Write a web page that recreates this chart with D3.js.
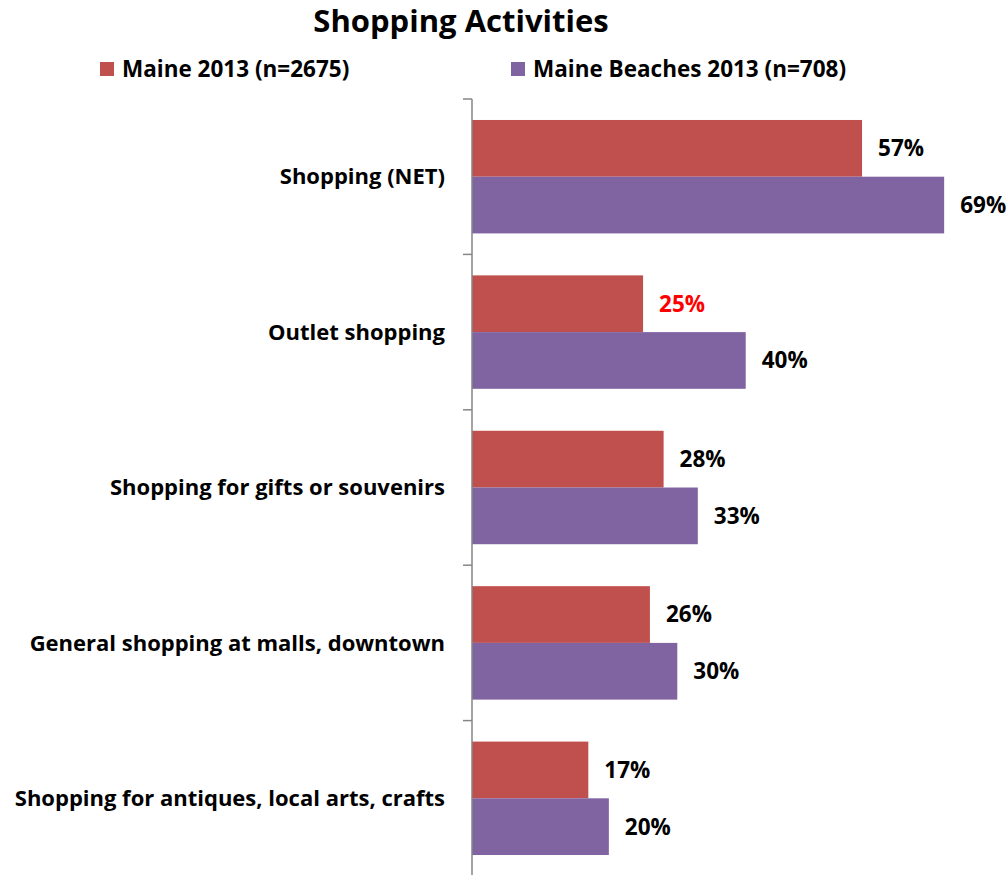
<!DOCTYPE html>
<html>
<head>
<meta charset="utf-8">
<script src="https://cdnjs.cloudflare.com/ajax/libs/d3/7.8.5/d3.min.js"></script>
<style>
  html, body { margin: 0; padding: 0; background: #fff; }
  svg { display: block; font-family: "Open Sans", Lato, sans-serif; font-weight: bold; }
</style>
</head>
<body>
<svg id="chart" width="1008" height="875"></svg>
<script>
// Survey results: share of visitors doing each shopping activity (%)
const categories = [
  "Shopping (NET)",
  "Outlet shopping",
  "Shopping for gifts or souvenirs",
  "General shopping at malls, downtown",
  "Shopping for antiques, local arts, crafts"
];
const seriesNames = ["Maine 2013 (n=2675)", "Maine Beaches 2013 (n=708)"];
const maine2013 = [57, 25, 28, 26, 17];
const maineBeaches2013 = [69, 40, 33, 30, 20];
// Value labels flagged as notable are printed in red
const highlightedLabels = [[false, true, false, false, false], [false, false, false, false, false]];

const colors = ["#C0504D", "#8064A2"];
const series = [maine2013, maineBeaches2013];

const svg = d3.select("#chart");
const plotLeft = 472, plotTop = 99, plotBottom = 876;

const y = d3.scaleBand().domain(categories).range([plotTop, plotBottom]).paddingInner(0.27).paddingOuter(0.135);
const ySub = d3.scaleBand().domain([0, 1]).range([0, y.bandwidth()]);
const x = d3.scaleLinear().domain([0, 70]).range([plotLeft, plotLeft + 479]);

// Title
svg.append("text")
  .attr("x", 461).attr("y", 32)
  .attr("text-anchor", "middle")
  .attr("font-size", 31)
  .attr("fill", "#000")
  .text("Shopping Activities");

// Legend
const legendX = [100, 511];
seriesNames.forEach((name, i) => {
  const g = svg.append("g").attr("transform", `translate(${legendX[i]},62)`);
  g.append("rect").attr("width", 14).attr("height", 14).attr("fill", colors[i]);
  g.append("text").attr("x", 22).attr("y", 15).attr("font-size", 22.5).attr("fill", "#000").text(name);
});

// Bars
series.forEach((vals, si) => {
  svg.append("g").selectAll("rect")
    .data(vals)
    .join("rect")
    .attr("x", plotLeft)
    .attr("y", (d, i) => y(categories[i]) + ySub(si))
    .attr("width", d => x(d) - plotLeft)
    .attr("height", ySub.bandwidth())
    .attr("fill", colors[si]);

  svg.append("g").selectAll("text")
    .data(vals)
    .join("text")
    .attr("x", d => x(d) + 16)
    .attr("y", (d, i) => y(categories[i]) + ySub(si) + ySub.bandwidth() / 2)
    .attr("dy", "0.35em")
    .attr("font-size", 22.5)
    .attr("fill", (d, i) => highlightedLabels[si][i] ? "#FF0000" : "#000")
    .text(d => d + "%");
});

// Category axis with boundary ticks
const axis = svg.append("g");
axis.append("line")
  .attr("x1", plotLeft).attr("x2", plotLeft)
  .attr("y1", plotTop).attr("y2", plotBottom)
  .attr("stroke", "#868686").attr("stroke-width", 1.5);
const step = (plotBottom - plotTop) / categories.length;
d3.range(categories.length + 1).forEach(k => {
  axis.append("line")
    .attr("x1", plotLeft - 9).attr("x2", plotLeft)
    .attr("y1", plotTop + k * step).attr("y2", plotTop + k * step)
    .attr("stroke", "#868686").attr("stroke-width", 1.5);
});

// Category labels
svg.append("g").selectAll("text")
  .data(categories)
  .join("text")
  .attr("x", 445)
  .attr("y", d => y(d) + y.bandwidth() / 2)
  .attr("dy", "0.35em")
  .attr("text-anchor", "end")
  .attr("font-size", 22)
  .attr("fill", "#000")
  .text(d => d);
</script>
</body>
</html>
